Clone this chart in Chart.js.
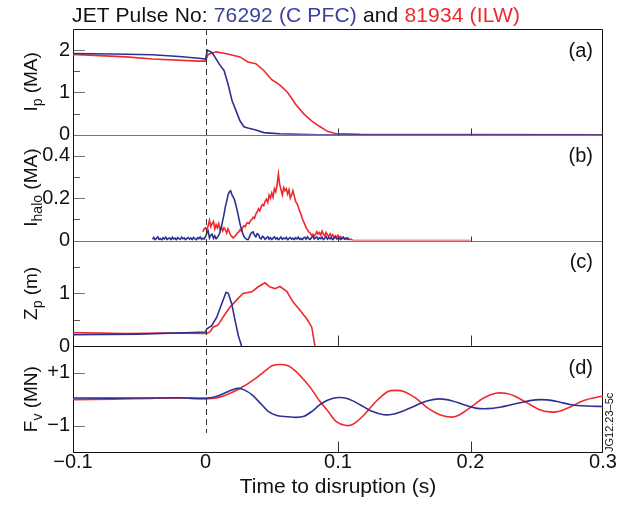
<!DOCTYPE html>
<html>
<head>
<meta charset="utf-8">
<script src="https://cdn.jsdelivr.net/npm/chart.js@4.4.0/dist/chart.umd.min.js"></script>
<style>
  body { margin: 0; background: #fff; }
  #wrap { position: relative; width: 630px; height: 508px; }
  #chart { position: absolute; left: 0; top: 0; }
  #title { position: absolute; left: 72px; top: 3px; line-height: 23px; letter-spacing: 0.15px;
           font: 21px "Liberation Sans", Arial, sans-serif; color: #111; white-space: nowrap; }
</style>
</head>
<body>
<div id="wrap">
  <canvas id="chart" width="630" height="508"></canvas>
  <div id="title">JET Pulse No: <span style="color:#3b3f9e">76292 (C PFC)</span> and <span style="color:#ee2a2e">81934 (ILW)</span></div>
</div>
<script>
// ---- data (time to disruption in s) ----

// (a) plasma current Ip (MA)
const ipBlueT = [-0.1, -0.07, -0.04, -0.02, -0.005, 0, 0.0015, 0.005, 0.011, 0.014, 0.017, 0.020, 0.023, 0.026, 0.029, 0.032, 0.038, 0.044, 0.056, 0.086, 0.3];
const ipBlueV = [1.92, 1.91, 1.89, 1.85, 1.81, 1.79, 2.0, 1.94, 1.64, 1.52, 1.2, 0.81, 0.57, 0.33, 0.19, 0.16, 0.11, 0.05, 0.02, 0.0, 0.0];
const ipRedT = [-0.1, -0.06, -0.04, -0.005, 0, 0.002, 0.008, 0.015, 0.026, 0.032, 0.038, 0.044, 0.050, 0.056, 0.062, 0.068, 0.074, 0.080, 0.086, 0.092, 0.098, 0.117, 0.3];
const ipRedV = [1.9, 1.84, 1.79, 1.74, 1.74, 1.9, 1.96, 1.92, 1.84, 1.72, 1.68, 1.52, 1.3, 1.18, 1.0, 0.72, 0.5, 0.33, 0.2, 0.08, 0.03, 0.01, 0.0];

// (b) halo current (MA), 1 ms samples
const haloBlueT = [
  -0.040, -0.039, -0.038, -0.037, -0.036, -0.035, -0.034, -0.033, -0.032, -0.031, -0.030, -0.029, -0.028, -0.027, -0.026, -0.025, -0.024, -0.023, -0.022, -0.021,
  -0.020, -0.019, -0.018, -0.017, -0.016, -0.015, -0.014, -0.013, -0.012, -0.011, -0.010, -0.009, -0.008, -0.007, -0.006, -0.005, -0.004, -0.003, -0.002, -0.001,
  0.000, 0.001, 0.002, 0.003, 0.004, 0.005, 0.006, 0.007, 0.008, 0.009, 0.010, 0.011, 0.012, 0.013, 0.014, 0.015, 0.016, 0.017, 0.018, 0.019,
  0.020, 0.021, 0.022, 0.023, 0.024, 0.025, 0.026, 0.027, 0.028, 0.029, 0.030, 0.031, 0.032, 0.033, 0.034, 0.035, 0.036, 0.037, 0.038, 0.039,
  0.040, 0.041, 0.042, 0.043, 0.044, 0.045, 0.046, 0.047, 0.048, 0.049, 0.050, 0.051, 0.052, 0.053, 0.054, 0.055, 0.056, 0.057, 0.058, 0.059,
  0.060, 0.061, 0.062, 0.063, 0.064, 0.065, 0.066, 0.067, 0.068, 0.069, 0.070, 0.071, 0.072, 0.073, 0.074, 0.075, 0.076, 0.077, 0.078, 0.079,
  0.080, 0.081, 0.082, 0.083, 0.084, 0.085, 0.086, 0.087, 0.088, 0.089, 0.090, 0.091, 0.092, 0.093, 0.094, 0.095, 0.096, 0.097, 0.098, 0.099,
  0.100, 0.101, 0.102, 0.103, 0.104, 0.105, 0.106, 0.107, 0.108];
const haloBlueV = [
  0.006, 0.014, 0.003, 0.011, 0.017, 0.005, 0.009, 0.002, 0.013, 0.008, 0.016, 0.004, 0.010, 0.012, 0.003, 0.015, 0.007, 0.011, 0.002, 0.014,
  0.009, 0.005, 0.016, 0.008, 0.012, 0.003, 0.010, 0.014, 0.006, 0.011, 0.004, 0.015, 0.008, 0.002, 0.013, 0.009, 0.017, 0.005, 0.011, 0.007,
  0.018, 0.035, 0.045, 0.012, 0.025, 0.030, 0.010, 0.022, 0.008, 0.015, 0.025, 0.040, 0.065, 0.095, 0.125, 0.160, 0.185, 0.215, 0.230, 0.235,
  0.215, 0.205, 0.190, 0.165, 0.140, 0.110, 0.080, 0.055, 0.035, 0.020, 0.012, 0.006, 0.003, 0.015, 0.030, 0.038, 0.040, 0.025, 0.018, 0.032,
  0.028, 0.012, 0.008, 0.020, 0.015, 0.005, 0.012, 0.018, 0.006, 0.014, 0.004, 0.011, 0.017, 0.007, 0.013, 0.003, 0.010, 0.016, 0.005, 0.012,
  0.008, 0.015, 0.002, 0.010, 0.014, 0.006, 0.011, 0.004, 0.013, 0.008, 0.016, 0.005, 0.010, 0.003, 0.012, 0.015, 0.006, 0.018, 0.009, 0.004,
  0.014, 0.020, 0.007, 0.012, 0.017, 0.005, 0.013, 0.009, 0.016, 0.004, 0.011, 0.019, 0.006, 0.014, 0.008, 0.015, 0.003, 0.012, 0.018, 0.007,
  0.010, 0.014, 0.004, 0.011, 0.016, 0.006, 0.009, 0.012, 0.003];
const haloRedT = [
  -0.002, -0.001, 0.000, 0.001, 0.002, 0.003, 0.004, 0.005, 0.006, 0.007, 0.008, 0.009, 0.010, 0.011, 0.012, 0.013, 0.014, 0.015, 0.016, 0.017,
  0.018, 0.019, 0.020, 0.021, 0.022, 0.023, 0.024, 0.025, 0.026, 0.027, 0.028, 0.029, 0.030, 0.031, 0.032, 0.033, 0.034, 0.035, 0.036, 0.037,
  0.038, 0.039, 0.040, 0.041, 0.042, 0.043, 0.044, 0.045, 0.046, 0.047, 0.048, 0.049, 0.050, 0.051, 0.052, 0.053, 0.054, 0.055, 0.056, 0.057,
  0.058, 0.059, 0.060, 0.061, 0.062, 0.063, 0.064, 0.065, 0.066, 0.067, 0.068, 0.069, 0.070, 0.071, 0.072, 0.073, 0.074, 0.075, 0.076, 0.077,
  0.078, 0.079, 0.080, 0.081, 0.082, 0.083, 0.084, 0.085, 0.086, 0.087, 0.088, 0.089, 0.090, 0.091, 0.092, 0.093, 0.094, 0.095, 0.096, 0.097,
  0.098, 0.099, 0.100, 0.101, 0.102, 0.103, 0.104, 0.105, 0.106, 0.107, 0.108, 0.109, 0.110, 0.111, 0.112, 0.200];
const haloRedV = [
  0.040, 0.055, 0.060, 0.048, 0.070, 0.095, 0.065, 0.080, 0.090, 0.055, 0.075, 0.060, 0.080, 0.050, 0.065, 0.045, 0.060, 0.050, 0.035, 0.055,
  0.040, 0.025, 0.018, 0.012, 0.020, 0.025, 0.035, 0.040, 0.050, 0.045, 0.060, 0.070, 0.065, 0.080, 0.085, 0.080, 0.095, 0.100, 0.110, 0.105,
  0.125, 0.135, 0.150, 0.140, 0.160, 0.170, 0.165, 0.185, 0.195, 0.180, 0.215, 0.200, 0.225, 0.205, 0.245, 0.230, 0.260, 0.315, 0.265, 0.240,
  0.215, 0.250, 0.235, 0.245, 0.220, 0.240, 0.200, 0.215, 0.235, 0.210, 0.185, 0.175, 0.160, 0.140, 0.125, 0.105, 0.090, 0.075, 0.060, 0.050,
  0.040, 0.035, 0.025, 0.030, 0.020, 0.028, 0.042, 0.030, 0.038, 0.025, 0.045, 0.030, 0.022, 0.038, 0.028, 0.018, 0.032, 0.020, 0.028, 0.012,
  0.022, 0.015, 0.025, 0.010, 0.018, 0.008, 0.015, 0.006, 0.012, 0.004, 0.010, 0.003, 0.006, 0.001, 0.0, 0.0];

// (c) vertical position Zp (m)
const zpBlueT = [-0.1, -0.05, -0.01, 0, 0.001, 0.0047, 0.0085, 0.0122, 0.0155, 0.0172, 0.0198, 0.0223, 0.0248, 0.0273];
const zpBlueV = [0.22, 0.23, 0.26, 0.27, 0.33, 0.39, 0.55, 0.8, 1.02, 1.0, 0.8, 0.49, 0.2, 0.0];
const zpRedT = [-0.1, -0.06, -0.03, 0, 0.001, 0.0034, 0.0057, 0.0094, 0.0132, 0.0185, 0.0245, 0.0283, 0.0349, 0.0396, 0.0449, 0.0487, 0.0525, 0.0562, 0.0613, 0.066, 0.0713, 0.0764, 0.0802, 0.0826];
const zpRedV = [0.26, 0.24, 0.25, 0.24, 0.24, 0.27, 0.36, 0.4, 0.55, 0.74, 0.9, 1.0, 1.03, 1.12, 1.2, 1.12, 1.09, 1.13, 1.04, 0.84, 0.68, 0.52, 0.36, 0.0];

// (d) vertical force Fv (MN)
const fvBlueT = [-0.1, -0.05, -0.02, 0, 0.0081, 0.0172, 0.0241, 0.0292, 0.0352, 0.0413, 0.0473, 0.0533, 0.0593, 0.0684, 0.0744, 0.0804, 0.0864, 0.0925, 0.1, 0.1075,
  0.1166, 0.1256, 0.1346, 0.1422, 0.1497, 0.1587, 0.1678, 0.1768, 0.1858, 0.1949, 0.2039, 0.213, 0.222, 0.231, 0.24, 0.249, 0.258, 0.267, 0.276, 0.288, 0.3];
const fvBlueV = [0.04, 0.04, 0.05, 0.03, 0.1, 0.29, 0.41, 0.35, 0.16, -0.15, -0.46, -0.61, -0.66, -0.69, -0.65, -0.46, -0.21, -0.03, 0.06, 0.01,
  -0.21, -0.46, -0.59, -0.56, -0.44, -0.24, -0.06, 0.01, -0.06, -0.21, -0.34, -0.36, -0.31, -0.21, -0.11, -0.03, -0.03, -0.11, -0.21, -0.26, -0.28];
const fvRedT = [-0.1, -0.07, -0.04, -0.02, 0, 0.0081, 0.0172, 0.0262, 0.0352, 0.0443, 0.0503, 0.0563, 0.0623, 0.0684, 0.0744, 0.0804, 0.0864, 0.0925, 0.0985, 0.106,
  0.112, 0.1196, 0.1286, 0.1377, 0.1437, 0.1497, 0.1587, 0.1678, 0.1768, 0.1858, 0.1919, 0.2009, 0.2099, 0.219, 0.2265, 0.234, 0.243, 0.252, 0.261, 0.267, 0.276, 0.285, 0.3];
const fvRedV = [-0.02, 0.0, 0.03, 0.04, 0.02, 0.04, 0.19, 0.41, 0.69, 1.04, 1.26, 1.31, 1.26, 1.04, 0.72, 0.35, -0.09, -0.46, -0.84, -1.0,
  -0.93, -0.6, -0.09, 0.29, 0.33, 0.29, 0.04, -0.34, -0.59, -0.68, -0.59, -0.28, 0.04, 0.22, 0.22, 0.1, -0.15, -0.4, -0.49, -0.46, -0.28, -0.06, 0.12];

// axis ticks
const xTicks = [-0.1, 0, 0.1, 0.2, 0.3];
const ipTickLabels = { 0: '0', 1: '1', 2: '2' };
const haloTickLabels = { 0: '0', 2: '0.2', 4: '0.4' };   // keyed by value*10
const zpTickLabels = { 0: '0', 1: '1' };
const fvTickLabels = { '-1': '\u22121', 1: '+1' };

const FONT = '"Liberation Sans", Arial, Helvetica, sans-serif';
const BLUE = '#2e3192';
const RED = '#ee2a2e';

function pairs(ts, vs) {
    return ts.map((t, i) => ({ x: t, y: vs[i] }));
}

function line(label, ts, vs, color, axis, tension) {
    return {
        label: label,
        data: pairs(ts, vs),
        yAxisID: axis,
        borderColor: color,
        borderWidth: 1.6,
        pointRadius: 0,
        tension: tension || 0,
        fill: false
    };
}

// one stacked y axis per panel
function panelAxis(min, max, step, weight, labelFor) {
    return {
        type: 'linear',
        position: 'left',
        stack: 'panels',
        stackWeight: 1,
        weight: weight,
        min: min,
        max: max,
        grid: { display: false, drawTicks: false },
        border: { display: false },
        ticks: {
            stepSize: step,
            autoSkip: false,
            padding: 3,
            color: '#111',
            font: { family: FONT, size: 20 },
            callback: labelFor
        },
        afterFit: function (s) { s.width = 73; }
    };
}

// sub-scripted, rotated axis title
function drawAxisTitle(ctx, x, y, main, sub, rest) {
    const big = '19px ' + FONT, small = '14px ' + FONT;
    ctx.font = big;
    const w1 = ctx.measureText(main).width;
    const w3 = ctx.measureText(rest).width;
    ctx.font = small;
    const w2 = ctx.measureText(sub).width;
    let pos = -(w1 + w2 + w3) / 2;
    ctx.save();
    ctx.translate(x, y);
    ctx.rotate(-Math.PI / 2);
    ctx.textAlign = 'left';
    ctx.textBaseline = 'alphabetic';
    ctx.fillStyle = '#111';
    ctx.font = big; ctx.fillText(main, pos, 0); pos += w1;
    ctx.font = small; ctx.fillText(sub, pos, 5); pos += w2;
    ctx.font = big; ctx.fillText(rest, pos, 0);
    ctx.restore();
}

const panelDecor = {
    id: 'panelDecor',
    beforeDatasetsDraw(chart) {
        const ctx = chart.ctx;
        const area = chart.chartArea;
        const sx = chart.scales.x;
        const ids = ['yA', 'yB', 'yC', 'yD'];
        const xTickLen = { yA: 7, yB: 5, yC: 11, yD: 11 };

        ctx.save();
        ctx.lineWidth = 1;
        ids.forEach(id => {
            const s = chart.scales[id];
            // inner y ticks
            s.ticks.forEach(t => {
                if (t.value <= s.min || t.value >= s.max) return;
                const major = t.label !== '';
                if (id === 'yD' && !major) return;
                const py = Math.round(s.getPixelForValue(t.value)) + 0.5;
                ctx.strokeStyle = major ? '#777' : '#555';
                ctx.beginPath();
                ctx.moveTo(area.left, py);
                ctx.lineTo(area.left + (major ? 12 : 7), py);
                ctx.stroke();
            });
            // panel base line (zero line or bottom frame)
            const base = id === 'yD' ? s.bottom : s.getPixelForValue(0);
            const by = Math.round(base) + 0.5;
            ctx.strokeStyle = (id === 'yA' || id === 'yB') ? '#777' : '#111';
            ctx.beginPath();
            ctx.moveTo(area.left, by);
            ctx.lineTo(area.right, by);
            ctx.stroke();
            // inner x ticks at 0.1 and 0.2
            ctx.strokeStyle = '#333';
            sx.ticks.forEach(t => {
                if (t.value <= sx.min + 1e-9 || t.value >= sx.max - 1e-9 || Math.abs(t.value) < 1e-9) return;
                const px = Math.round(sx.getPixelForValue(t.value)) + 0.5;
                ctx.beginPath();
                ctx.moveTo(px, by);
                ctx.lineTo(px, by - xTickLen[id]);
                ctx.stroke();
            });
        });
        // outer frame
        ctx.strokeStyle = '#111';
        ctx.beginPath();
        ctx.moveTo(area.left + 0.5, area.bottom);
        ctx.lineTo(area.left + 0.5, area.top + 0.5);
        ctx.lineTo(area.right - 0.5, area.top + 0.5);
        ctx.lineTo(area.right - 0.5, area.bottom);
        ctx.stroke();
        ctx.restore();
    },
    afterDatasetsDraw(chart) {
        const ctx = chart.ctx;
        const area = chart.chartArea;
        const sx = chart.scales.x;

        // dashed line at the disruption time
        const x0 = Math.round(sx.getPixelForValue(0)) + 0.5;
        ctx.save();
        ctx.strokeStyle = '#333';
        ctx.lineWidth = 1;
        ctx.setLineDash([6, 4]);
        ctx.beginPath();
        ctx.moveTo(x0, area.top);
        ctx.lineTo(x0, area.bottom - 19);
        ctx.stroke();
        ctx.setLineDash([]);

        // panel letters
        ctx.fillStyle = '#111';
        ctx.font = '20px ' + FONT;
        ctx.textAlign = 'right';
        ctx.textBaseline = 'middle';
        [['yA', '(a)'], ['yB', '(b)'], ['yC', '(c)'], ['yD', '(d)']].forEach(p => {
            ctx.fillText(p[1], area.right - 10, chart.scales[p[0]].top + 22);
        });

        // y titles
        const mid = id => (chart.scales[id].top + chart.scales[id].bottom) / 2;
        drawAxisTitle(ctx, 37, mid('yA'), 'I', 'p', ' (MA)');
        drawAxisTitle(ctx, 37, mid('yB'), 'I', 'halo', ' (MA)');
        drawAxisTitle(ctx, 37, mid('yC'), 'Z', 'p', ' (m)');
        drawAxisTitle(ctx, 37, mid('yD'), 'F', 'v', ' (MN)');

        // figure reference code
        ctx.save();
        ctx.translate(613, area.bottom);
        ctx.rotate(-Math.PI / 2);
        ctx.font = '11px ' + FONT;
        ctx.textAlign = 'left';
        ctx.textBaseline = 'alphabetic';
        ctx.fillText('JG12.23\u20135c', 0, 0);
        ctx.restore();
        ctx.restore();
    }
};

const ctx = document.getElementById('chart');
new Chart(ctx, {
    type: 'line',
    data: {
        datasets: [
            line('76292 Ip', ipBlueT, ipBlueV, BLUE, 'yA'),
            line('81934 Ip', ipRedT, ipRedV, RED, 'yA'),
            line('76292 halo', haloBlueT, haloBlueV, BLUE, 'yB'),
            line('81934 halo', haloRedT, haloRedV, RED, 'yB'),
            line('76292 Zp', zpBlueT, zpBlueV, BLUE, 'yC'),
            line('81934 Zp', zpRedT, zpRedV, RED, 'yC'),
            line('76292 Fv', fvBlueT, fvBlueV, BLUE, 'yD', 0.3),
            line('81934 Fv', fvRedT, fvRedV, RED, 'yD', 0.3)
        ]
    },
    options: {
        responsive: false,
        animation: false,
        devicePixelRatio: 1,
        layout: { padding: { top: 29, right: 27, left: 0, bottom: 0 } },
        plugins: {
            legend: { display: false },
            tooltip: { enabled: false }
        },
        scales: {
            x: {
                type: 'linear',
                min: xTicks[0],
                max: xTicks[xTicks.length - 1],
                grid: { display: false, drawTicks: false },
                border: { display: false },
                afterBuildTicks: function (s) { s.ticks = xTicks.map(v => ({ value: v })); },
                ticks: {
                    padding: -2,
                    color: '#111',
                    font: { family: FONT, size: 20 },
                    maxRotation: 0,
                    callback: function (v) {
                        if (Math.abs(v) < 1e-9) return '0';
                        return (v < 0 ? '\u2212' : '') + Math.abs(v).toFixed(1);
                    }
                },
                title: {
                    display: true,
                    text: 'Time to disruption (s)',
                    color: '#111',
                    font: { family: FONT, size: 21 },
                    padding: { top: 0, bottom: 8 }
                },
                afterFit: function (s) { s.height = 56; }
            },
            yD: panelAxis(-2, 2, 1, 1, v => fvTickLabels[Math.round(v)] && Math.abs(v - Math.round(v)) < 1e-9 ? fvTickLabels[Math.round(v)] : ''),
            yC: panelAxis(0, 2, 0.5, 2, v => Math.abs(v - Math.round(v)) < 1e-9 && zpTickLabels[Math.round(v)] ? zpTickLabels[Math.round(v)] : ''),
            yB: panelAxis(0, 0.5, 0.1, 3, v => haloTickLabels[Math.round(v * 10)] || ''),
            yA: panelAxis(0, 2.5, 0.5, 4, v => Math.abs(v - Math.round(v)) < 1e-9 && ipTickLabels[Math.round(v)] ? ipTickLabels[Math.round(v)] : '')
        }
    },
    plugins: [panelDecor]
});
</script>
</body>
</html>
